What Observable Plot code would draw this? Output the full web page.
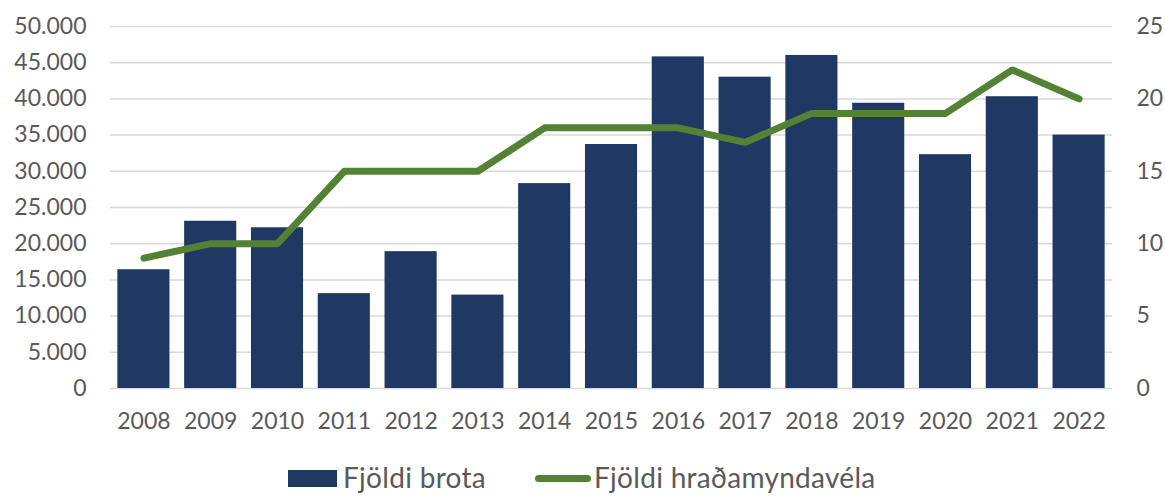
<!DOCTYPE html>
<html>
<head>
<meta charset="utf-8">
<script src="https://cdn.jsdelivr.net/npm/d3@7"></script>
<script src="https://cdn.jsdelivr.net/npm/@observablehq/plot@0.6"></script>
<style>
  html, body { margin: 0; padding: 0; background: #fff; overflow: hidden; }
  body { width: 1165px; height: 496px; font-family: Lato, "Open Sans", sans-serif; position: relative; }
  #chart svg { display: block; }
  #legend { height: 46px; color: #595959; font-size: 28px; line-height: 1.2; letter-spacing: 0.3px; }
  .item { display: flex; align-items: center; position: absolute; height: 34px; }
  .sw-bar { width: 49px; height: 17px; background: #1f3864; margin-right: 6px; }
  .sw-line { width: 56px; height: 7px; background: #548235; border-radius: 4px; margin-right: 3px; }
</style>
</head>
<body>
<div id="chart"></div>
<div id="legend">
  <div class="item" style="left:288px; top:461px;"><div class="sw-bar"></div><span>Fjöldi brota</span></div>
  <div class="item" style="left:535px; top:461px;"><div class="sw-line"></div><span>Fjöldi hraðamyndavéla</span></div>
</div>
<script>
const years = ["2008","2009","2010","2011","2012","2013","2014","2015","2016","2017","2018","2019","2020","2021","2022"];
const brot = [16400, 23100, 22200, 13100, 18900, 12900, 28300, 33700, 45800, 43000, 46000, 39400, 32300, 40300, 35000];
const myndavelar = [9, 10, 10, 15, 15, 15, 18, 18, 18, 17, 19, 19, 19, 22, 20];
const leftTicks = [0, 5000, 10000, 15000, 20000, 25000, 30000, 35000, 40000, 45000, 50000];
const rightTicks = [0, 5, 10, 15, 20, 25];
const ratio = 2000; // right axis 25 ↔ left axis 50.000

const isFmt = d3.formatLocale({decimal: ",", thousands: ".", grouping: [3], currency: ["", ""]}).format(",");

const data = years.map((y, i) => ({year: y, brot: brot[i], cams: myndavelar[i]}));

const chart = Plot.plot({
  width: 1165,
  height: 450,
  marginLeft: 110,
  marginRight: 53,
  marginTop: 26,
  marginBottom: 62,
  style: {fontFamily: "Lato, 'Open Sans', sans-serif", fontSize: "23px", color: "#595959", background: "#fff"},
  x: {domain: years, paddingInner: 0.22, paddingOuter: 0.11, round: false, label: null},
  y: {domain: [0, 50000], label: null},
  marks: [
    Plot.gridY(leftTicks, {stroke: "#d9d9d9", strokeOpacity: 1, strokeWidth: 1.5}),
    Plot.barY(data, {x: "year", y: "brot", fill: "#1f3864"}),
    Plot.line(data, {x: "year", y: d => d.cams * ratio, stroke: "#548235", strokeWidth: 7, strokeLinecap: "round", strokeLinejoin: "round"}),
    Plot.axisX({tickSize: 0, tickPadding: 24, fill: "#595959", label: null}),
    Plot.axisY({anchor: "left", ticks: leftTicks, tickFormat: isFmt, tickSize: 0, tickPadding: 24, fill: "#595959", label: null}),
    Plot.axisY({anchor: "right", ticks: rightTicks.map(v => v * ratio), tickFormat: d => String(d / ratio), tickSize: 0, tickPadding: 24, fill: "#595959", label: null})
  ]
});
document.getElementById("chart").appendChild(chart);
</script>
</body>
</html>
